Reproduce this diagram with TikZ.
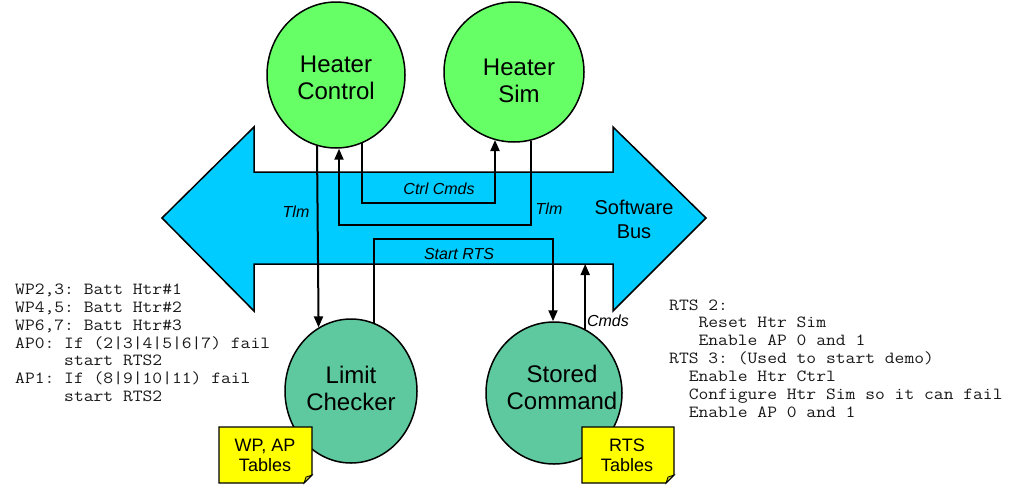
\documentclass[tikz,border=0pt]{standalone}
\usepackage{fontspec}
\setmainfont{Liberation Sans}
\setmonofont[FakeStretch=1.12]{Latin Modern Mono}
\usetikzlibrary{arrows.meta,shapes.geometric,calc}
\definecolor{lgreen}{HTML}{66FF66}
\definecolor{dgreen}{HTML}{5EC99E}
\definecolor{busblue}{HTML}{00CCFF}
\definecolor{noteyel}{HTML}{FFFF00}
\definecolor{foldyel}{HTML}{CCCC33}
\begin{document}
\begin{tikzpicture}[x=1pt,y=1pt,
  proc/.style={ellipse, draw=black, inner sep=0pt, line width=1.5pt},
  big/.style={font=\fontsize{24}{27}\selectfont, align=center, inner sep=0pt},
  lbl/.style={font=\fontsize{16}{19}\selectfont\itshape, inner sep=0pt},
  arr/.style={-{Triangle[length=11pt,width=9pt]}, line width=2pt},
  mono/.style={font=\ttfamily\fontsize{17}{18}\selectfont, anchor=base west, inner sep=0pt, text=black!90},
  notebox/.style={fill=noteyel, draw=black, line width=1.2pt, line join=miter},
  notefold/.style={fill=foldyel, draw=black, line width=0.8pt},
  notetext/.style={font=\fontsize{18}{20}\selectfont, align=center, inner sep=0pt}]
\useasboundingbox (0,0) rectangle (1024,-488);

% software bus
\draw[fill=busblue, line width=1.5pt, line join=miter]
  (162,-218) -- (254,-127) -- (254,-172) -- (613,-172) -- (613,-127) -- (706,-218)
  -- (613,-311) -- (613,-264) -- (254,-264) -- (254,-311) -- cycle;
\coordinate (busbot) at (584,-264);
\node[font=\fontsize{20}{24}\selectfont, align=center, inner sep=0pt] (bus) at (634,-219.5) {Software\\Bus};

% processes
\node[proc, fill=lgreen, minimum width=138, minimum height=146] (hc) at (336,-75) {};
\node[big] (hct) at (336,-78) {Heater\\Control};
\node[proc, fill=lgreen, minimum width=140, minimum height=140] (hs) at (514,-72) {};
\node[big] (hst) at (519,-81) {Heater\\Sim};
\node[proc, fill=dgreen, minimum width=132, minimum height=144] (lc) at (351,-391) {};
\node[big] (lct) at (351,-388) {Limit\\Checker};
\node[proc, fill=dgreen, minimum width=136, minimum height=142] (sc) at (554,-393) {};
\node[big] (sct) at (562,-387) {Stored\\Command};

% connectors
\draw[arr] (hc.255.7) -- (lc.117.9);
\coordinate (t2) at (339,-225);
\draw[arr] (hs.284.1) |- (t2) -- (t2 |- hc.272.4);
\coordinate (c2) at (495,-203);
\draw[arr] (hc.291.9) |- (c2) -- (c2 |- hs.254.3);
\coordinate (s2) at (553,-239);
\draw[arr] (lc.71.2) |- (s2) -- (s2 |- sc.90.8);
\draw[arr] (sc.64.8) -- (sc.64.8 |- busbot);

% connector labels
\node[lbl] (tlm1) at (296,-212) {Tlm};
\node[lbl] (tlm2) at (549,-209) {Tlm};
\node[lbl] (cc) at (439,-189) {Ctrl Cmds};
\node[lbl] (srts) at (459,-254) {Start RTS};
\node[lbl] (cmds) at (608,-321) {Cmds};

% notes
\draw[notebox] (219,-427) -- (312,-427) -- (312,-475) -- (304,-483) -- (219,-483) -- cycle;
\draw[notefold] (304,-483) -- (306,-477) -- (312,-475) -- cycle;
\node[notetext] (wpt) at (265,-455) {WP, AP\\Tables};
\draw[notebox] (582,-427) -- (674,-427) -- (674,-475) -- (666,-483) -- (582,-483) -- cycle;
\draw[notefold] (666,-483) -- (668,-477) -- (674,-475) -- cycle;
\node[notetext] (rtst) at (627,-455) {RTS\\Tables};

% left text block
\foreach \t [count=\i] in {{WP2,3: Batt Htr\#1},{WP4,5: Batt Htr\#2},{WP6,7: Batt Htr\#3},
  {AP0: If (2|3|4|5|6|7) fail},{\hphantom{00000}start RTS2},{AP1: If (8|9|10|11) fail},
  {\hphantom{00000}start RTS2}}
  \node[mono] (L\i) at (15,{-294.3-(\i-1)*17.9}) {\t};

% right text block
\foreach \t [count=\i] in {{RTS 2:},{\hphantom{000}Reset Htr Sim},{\hphantom{000}Enable AP 0 and 1},
  {RTS 3: (Used to start demo)},{\hphantom{00}Enable Htr Ctrl},
  {\hphantom{00}Configure Htr Sim so it can fail},{\hphantom{00}Enable AP 0 and 1}}
  \node[mono] (R\i) at (669,{-310-(\i-1)*17.9}) {\t};
\end{tikzpicture}
\end{document}
